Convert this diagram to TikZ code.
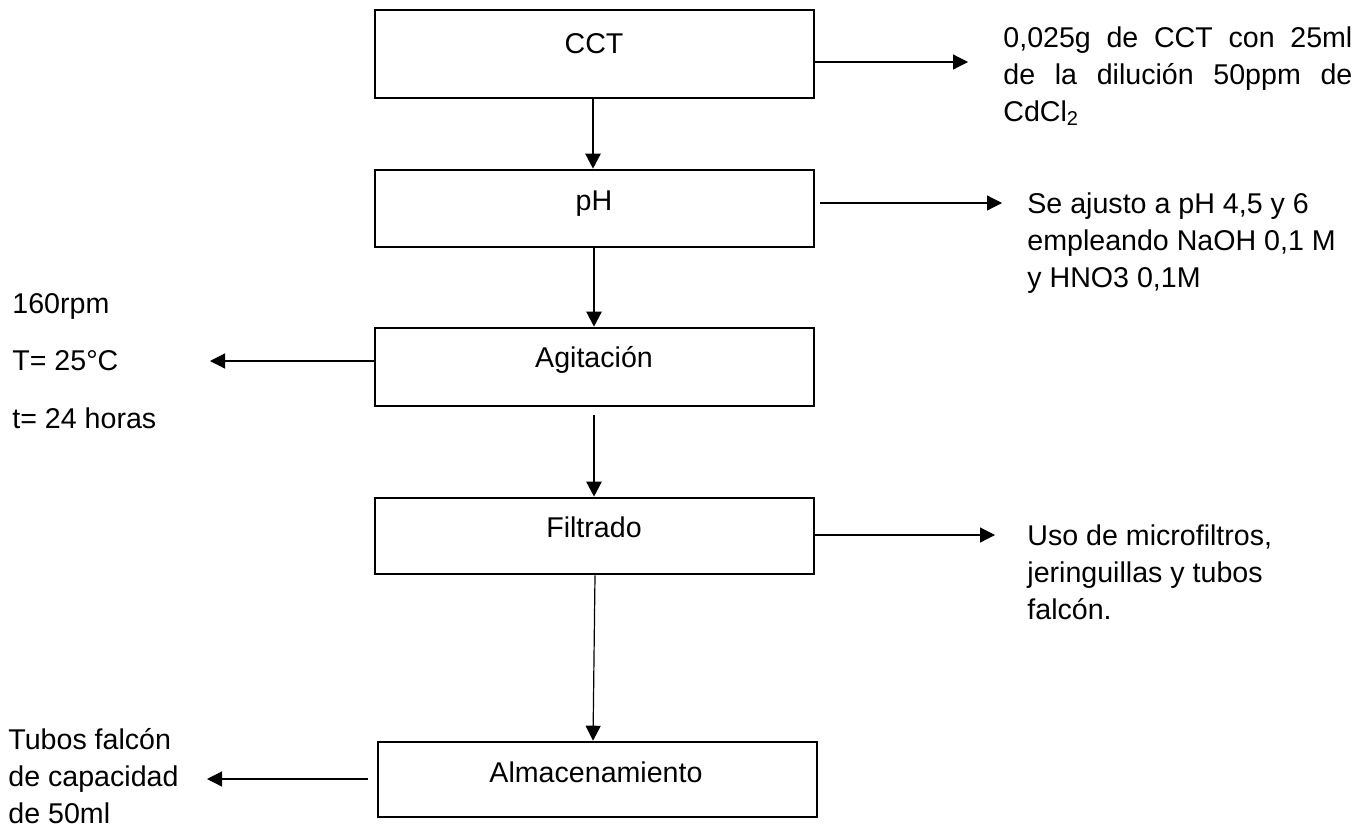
\documentclass[tikz,border=0pt]{standalone}
\usepackage{fontspec}
\setmainfont{Liberation Sans}
\usetikzlibrary{arrows.meta}
\begin{document}
\begin{tikzpicture}[x=0.5pt,y=-0.5pt,
  box/.style={draw, line width=1.3pt, minimum width=219.5pt, inner sep=0pt},
  lbl/.style={inner sep=0pt, font=\fontsize{14.3pt}{18.5pt}\selectfont},
  bigarrow/.style={line width=1.2pt, -{Triangle[length=7.5pt,width=7.5pt]}},
  smallarrow/.style={line width=0.6pt, -{Triangle[length=7.5pt,width=7.5pt]}}]
\useasboundingbox[fill=white] (0,0) rectangle (1370,830);
% boxes
\node[box, minimum height=44pt]   (cct)  at (594.5,54)    {};
\node[box, minimum height=38.5pt] (ph)   at (594.5,208.5) {};
\node[box, minimum height=39pt]   (agit) at (594.5,367)   {};
\node[box, minimum height=38pt]   (filt) at (594.5,536)   {};
\node[box, minimum height=37.5pt] (alm)  at (597.5,779.5) {};
% box texts
\node[lbl, anchor=base] (tcct)  at (594,53)  {CCT};
\node[lbl, anchor=base] (tph)   at (594,210) {pH};
\node[lbl, anchor=base] (tagit) at (594,367) {Agitación};
\node[lbl, anchor=base] (tfilt) at (594,537) {Filtrado};
\node[lbl, anchor=base] (talm)  at (596,782) {Almacenamiento};
% vertical arrows
\draw[bigarrow] ([xshift=-0.75pt]cct.south) -- ([xshift=-0.75pt]ph.north);
\draw[bigarrow] ([xshift=-0.25pt]ph.south) -- ([xshift=-0.25pt]agit.north);
\draw[bigarrow, shorten <=4pt] ([xshift=-0.25pt]agit.south) -- ([xshift=-0.25pt]filt.north);
\draw[smallarrow] ([xshift=0.25pt]filt.south) -- ([xshift=-2.25pt]alm.north);
% side texts (base anchor = baseline of the last line)
\node[lbl, anchor=base west, align=left] (r1) at (1003,121)
  {\makebox[174.5pt][s]{0,025g de CCT con 25ml}\\
   \makebox[174.5pt][s]{de la dilución 50ppm de}\\
   CdCl\textsubscript{2}};
\node[lbl, anchor=base west, align=left] (r2) at (1027,287)
  {Se ajusto a pH 4,5 y 6\\empleando NaOH 0,1 M\\y HNO3 0,1M};
\node[lbl, anchor=base west, align=left] (r3) at (1027,619)
  {Uso de microfiltros,\\jeringuillas y tubos\\falcón.};
\node[lbl, anchor=base west, align=left] (l1) at (12,428)
  {160rpm\\[10.25pt]T= 25°C\\[10.25pt]t= 24 horas};
\node[lbl, anchor=base west, align=left] (l2) at (8,823)
  {Tubos falcón\\de capacidad\\de 50ml};
% side arrows
\coordinate (e1) at (968,62);
\coordinate (s2) at (820,203);
\coordinate (e2) at (1002,203);
\coordinate (e3) at (995,535);
\coordinate (e4) at (210,361);
\coordinate (s5) at (368,779);
\coordinate (e5) at (207,779);
\draw[smallarrow] (cct.east |- e1) -- (e1);
\draw[smallarrow] (s2) -- (e2);
\draw[smallarrow] (filt.east |- e3) -- (e3);
\draw[smallarrow] (agit.west |- e4) -- (e4);
\draw[smallarrow] (s5) -- (e5);
\end{tikzpicture}
\end{document}
